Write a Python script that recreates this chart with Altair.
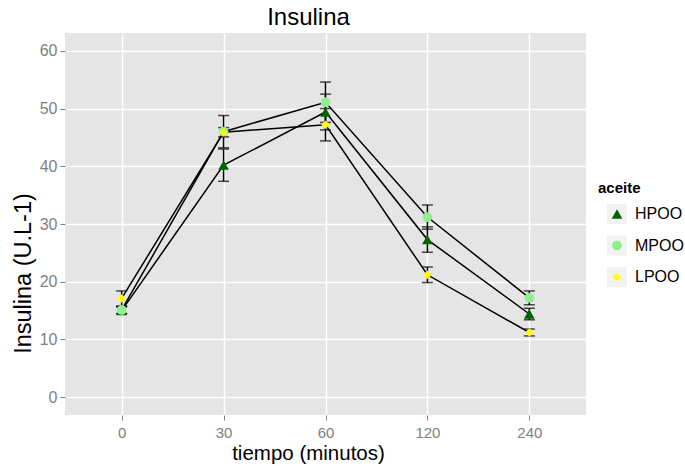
import altair as alt
import pandas as pd

tiempos = ["0", "30", "60", "120", "240"]
aceites = ["HPOO", "MPOO", "LPOO"]
colores = ["#006400", "#90EE90", "#FFFF00"]
formas = ["triangle-up", "circle", "diamond"]
tamanos = [115, 75, 40]

hpoo = [15.0, 40.2, 49.4, 27.3, 14.4]
hpoo_err = [0.6, 2.8, 3.1, 2.2, 1.0]
mpoo = [15.1, 46.0, 51.1, 31.2, 17.2]
mpoo_err = [0.6, 2.8, 3.5, 2.1, 1.2]
lpoo = [17.1, 45.9, 47.2, 21.2, 11.2]
lpoo_err = [1.3, 0.8, 2.8, 1.35, 0.6]

rows = []
for name, vals, errs in [("HPOO", hpoo, hpoo_err), ("MPOO", mpoo, mpoo_err), ("LPOO", lpoo, lpoo_err)]:
    for i, (t, v, e) in enumerate(zip(tiempos, vals, errs)):
        rows.append({"tiempo": t, "orden": i, "aceite": name, "insulina": v,
                     "lo": v - e, "hi": v + e})
df = pd.DataFrame(rows)

FONT = "Liberation Sans"

x_enc = alt.X("tiempo:O", sort=tiempos,
              scale=alt.Scale(type="point", padding=0.556),
              axis=alt.Axis(title="tiempo (minutos)", labelAngle=0, domain=False,
                            tickColor="#7F7F7F", tickSize=5, labelColor="#7F7F7F",
                            labelFontSize=15, labelPadding=5, titleFontSize=20.5,
                            titleFontWeight="normal", titleColor="black", titlePadding=3,
                            gridColor="white", gridWidth=1.5, grid=True,
                            labelFont=FONT, titleFont=FONT, titleX=243))
y_scale = alt.Scale(domain=[-3.1, 63.1], nice=False, zero=False)
y_axis = alt.Axis(title="Insulina (U.L-1)", values=list(range(0, 61, 5)),
                  labelExpr="datum.value % 10 === 0 ? datum.label : ''",
                  gridColor=alt.condition("datum.value % 10 === 0", alt.value("white"), alt.value("#F2F2F2")),
                  gridWidth=alt.condition("datum.value % 10 === 0", alt.value(1.5), alt.value(0.8)),
                  tickColor=alt.condition("datum.value % 10 === 0", alt.value("#7F7F7F"), alt.value("transparent")),
                  tickSize=5, domain=False, labelColor="#7F7F7F", labelFontSize=16,
                  labelPadding=3, titleFontSize=23.5, titleFontWeight="normal",
                  titleColor="black", titlePadding=4, labelFont=FONT, titleFont=FONT,
                  titleY=240)

color_sc = alt.Scale(domain=aceites, range=colores)
shape_sc = alt.Scale(domain=aceites, range=formas)
size_sc = alt.Scale(domain=aceites, range=tamanos)

base = alt.Chart(df)
lines = base.mark_line(color="black", strokeWidth=1.5).encode(
    x=x_enc, y=alt.Y("insulina:Q", scale=y_scale, axis=y_axis),
    detail="aceite:N", order="orden:Q")
bars = base.mark_rule(color="black", strokeWidth=1.5).encode(
    x=x_enc, y=alt.Y("lo:Q", scale=y_scale), y2="hi:Q")
cap_lo = base.mark_tick(color="black", thickness=1.5, size=11, orient="horizontal").encode(
    x=x_enc, y=alt.Y("lo:Q", scale=y_scale))
cap_hi = base.mark_tick(color="black", thickness=1.5, size=11, orient="horizontal").encode(
    x=x_enc, y=alt.Y("hi:Q", scale=y_scale))
points = base.mark_point(filled=True, opacity=1).encode(
    x=x_enc, y=alt.Y("insulina:Q", scale=y_scale),
    color=alt.Color("aceite:N", scale=color_sc, legend=None),
    shape=alt.Shape("aceite:N", scale=shape_sc, legend=None),
    size=alt.Size("aceite:N", scale=size_sc, legend=None))

main = alt.layer(lines, bars, cap_lo, cap_hi, points).properties(
    width=521, height=382,
    view=alt.ViewBackground(fill="#E5E5E5", stroke=None),
    title=alt.TitleParams("Insulina", fontSize=24, fontWeight="normal", color="black",
                          font=FONT, dx=-17, offset=3))

leg_df = pd.DataFrame({"aceite": aceites})
leg_base = alt.Chart(leg_df)
y_leg = alt.Y("aceite:N", sort=aceites,
              scale=alt.Scale(type="point", range=[181, 244], padding=0), axis=None)
leg_bg = leg_base.mark_point(shape="square", filled=True, color="#F2F2F2", size=400, opacity=1).encode(
    x=alt.value(19), y=y_leg)
leg_sym = leg_base.mark_point(filled=True, opacity=1).encode(
    x=alt.value(19), y=y_leg,
    color=alt.Color("aceite:N", scale=color_sc, legend=None),
    shape=alt.Shape("aceite:N", scale=shape_sc, legend=None),
    size=alt.Size("aceite:N", scale=size_sc, legend=None))
leg_txt = leg_base.mark_text(align="left", baseline="middle", fontSize=16, font=FONT, color="black").encode(
    x=alt.value(37), y=y_leg, text="aceite:N")
legend = alt.layer(leg_bg, leg_sym, leg_txt).properties(
    width=85, height=382,
    title=alt.TitleParams("aceite", anchor="start", fontSize=15, fontWeight="bold",
                          color="black", font=FONT, dy=163, offset=0))

chart = alt.hconcat(main, legend, spacing=12, bounds="flush").configure_view(
    stroke=None).properties(padding={"left": 11, "top": 6, "right": 0, "bottom": 5})

chart.save("out.html", embed_options={"renderer": "svg", "actions": False})
